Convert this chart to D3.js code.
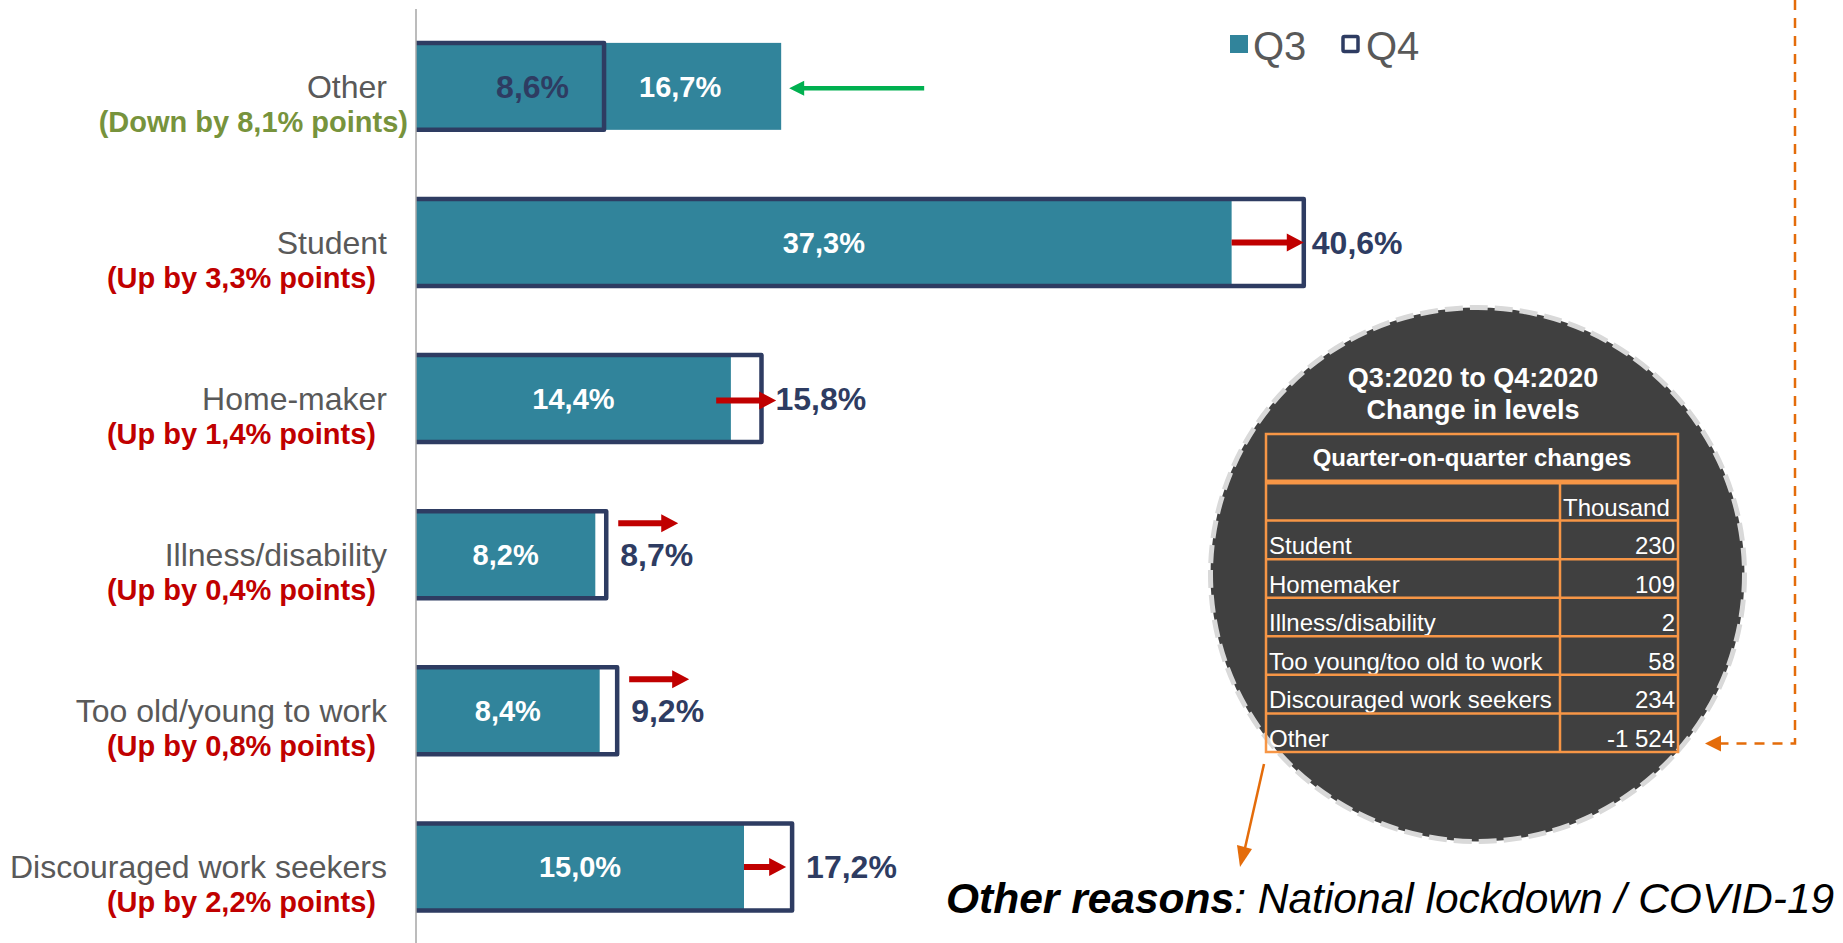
<!DOCTYPE html>
<html>
<head>
<meta charset="utf-8">
<script src="https://cdn.jsdelivr.net/npm/d3@7"></script>
<style>
  body { margin: 0; background: #fff; }
  svg { display: block; font-family: "Liberation Sans", Arial, sans-serif; }
</style>
</head>
<body>
<div id="chart"></div>
<script>
// data
let categories = ["Other", "Student", "Home-maker", "Illness/disability", "Too old/young to work", "Discouraged work seekers"]
let q3Values = [16.7, 37.3, 14.4, 8.2, 8.4, 15.0]
let q4Values = [8.6, 40.6, 15.8, 8.7, 9.2, 17.2]
let changeLabels = ["(Down by 8,1% points)", "(Up by 3,3% points)", "(Up by 1,4% points)",
    "(Up by 0,4% points)", "(Up by 0,8% points)", "(Up by 2,2% points)"]
let legendLabels = ["Q3", "Q4"]

let tableTitle = ["Q3:2020 to Q4:2020", "Change in levels"]
let tableHeader = "Quarter-on-quarter changes"
let tableUnit = "Thousand"
let tableRows = ["Student", "Homemaker", "Illness/disability", "Too young/too old to work", "Discouraged work seekers", "Other"]
let tableValues = ["230", "109", "2", "58", "234", "-1 524"]

let noteBold = "Other reasons"
let noteText = ": National lockdown / COVID-19"

let teal = "#31849B", navy = "#2E3C62", red = "#C00000", green = "#00B050",
    olive = "#77933C", grey = "#595959", orange = "#F79646", darkOrange = "#E46C0A"

let width = 1843, height = 943

let svg = d3.select("#chart").append("svg")
    .attr("width", width)
    .attr("height", height)

let data = categories.map((c, i) => ({cat: c, q3: q3Values[i], q4: q4Values[i], change: changeLabels[i]}))

let fmt = d3.formatLocale({decimal: ",", thousands: " ", grouping: [3], currency: ["", ""]}).format(".1f")

let x = d3.scaleLinear().domain([0, 45]).range([416, 1400])
let y = d3.scaleBand().domain(categories).range([8.3, 945]).paddingInner(0.443).paddingOuter(0.2215)
let bw = y.bandwidth()

// arrow polygon, works both ways
function arrow(x1, x2, yc, shaft, headW, headL) {
    let dir = x2 > x1 ? 1 : -1
    let hb = x2 - dir * headL
    return [[x1, yc - shaft / 2], [hb, yc - shaft / 2], [hb, yc - headW / 2], [x2, yc],
        [hb, yc + headW / 2], [hb, yc + shaft / 2], [x1, yc + shaft / 2]]
}
let line = d3.line()

// Q4 white background, Q3 fill, Q4 outline
svg.selectAll(".q4bg").data(data).enter()
    .append("rect")
    .attr("x", x(0))
    .attr("y", d => y(d.cat))
    .attr("width", d => x(d.q4) - x(0))
    .attr("height", bw)
    .attr("fill", "#fff")

svg.selectAll(".q3").data(data).enter()
    .append("rect")
    .attr("x", x(0))
    .attr("y", d => y(d.cat))
    .attr("width", d => x(d.q3) - x(0))
    .attr("height", bw)
    .attr("fill", teal)

svg.selectAll(".q4").data(data).enter()
    .append("path")
    .attr("d", d => line([[x(0), y(d.cat)], [x(d.q4), y(d.cat)], [x(d.q4), y(d.cat) + bw], [x(0), y(d.cat) + bw]]))
    .attr("fill", "none")
    .attr("stroke", navy)
    .attr("stroke-width", 4.5)
    .attr("stroke-linejoin", "round")

// axis line
svg.append("line")
    .attr("x1", x(0)).attr("x2", x(0))
    .attr("y1", 9).attr("y2", height)
    .attr("stroke", "#A6A6A6")
    .attr("stroke-width", 1.5)

// category labels
svg.selectAll(".cat").data(data).enter()
    .append("text")
    .attr("x", 387)
    .attr("y", d => y(d.cat) + bw / 2)
    .attr("dy", "0.35em")
    .attr("text-anchor", "end")
    .attr("font-size", 32)
    .attr("fill", grey)
    .text(d => d.cat)

svg.selectAll(".chg").data(data).enter()
    .append("text")
    .attr("x", d => d.q4 < d.q3 ? 408 : 376)
    .attr("y", d => y(d.cat) + bw / 2 + 35)
    .attr("dy", "0.35em")
    .attr("text-anchor", "end")
    .attr("font-size", 29)
    .attr("font-weight", "bold")
    .attr("fill", d => d.q4 < d.q3 ? olive : red)
    .text(d => d.change)

// value labels
svg.selectAll(".q3lab").data(data).enter()
    .append("text")
    .attr("x", d => d.q4 < d.q3 ? x(d.q4) + 35 : (x(0) + x(d.q3)) / 2)
    .attr("y", d => y(d.cat) + bw / 2)
    .attr("dy", "0.35em")
    .attr("text-anchor", d => d.q4 < d.q3 ? "start" : "middle")
    .attr("font-size", 29)
    .attr("font-weight", "bold")
    .attr("fill", "#fff")
    .text(d => fmt(d.q3) + "%")

svg.selectAll(".q4lab").data(data).enter()
    .append("text")
    .attr("x", d => d.q4 < d.q3 ? x(d.q4) - 35 : x(d.q4) + (d.q4 > 30 ? 8 : 14))
    .attr("y", d => y(d.cat) + bw / 2)
    .attr("dy", "0.35em")
    .attr("text-anchor", d => d.q4 < d.q3 ? "end" : "start")
    .attr("font-size", 32)
    .attr("font-weight", "bold")
    .attr("fill", navy)
    .text(d => fmt(d.q4) + "%")

// change arrows
data.forEach(d => {
    let yc = y(d.cat) + bw / 2
    let gap = x(d.q4) - x(d.q3)
    if (d.q4 < d.q3) {
        svg.append("polygon")
            .attr("points", arrow(x(d.q3) + 143, x(d.q3) + 8, yc + 2, 4.5, 15, 15).join(" "))
            .attr("fill", green)
    } else if (d.q4 - d.q3 < 1) {
        svg.append("polygon")
            .attr("points", arrow(x(d.q4) + 12, x(d.q4) + 72, y(d.cat) + 12, 6, 18, 17).join(" "))
            .attr("fill", red)
    } else if (gap < 40) {
        let ext = (60 - gap) / 2
        svg.append("polygon")
            .attr("points", arrow(x(d.q3) - ext, x(d.q4) + ext, yc + 2, 6, 18, 17).join(" "))
            .attr("fill", red)
    } else {
        let trim = Math.max(0, 60 - gap) / 2
        svg.append("polygon")
            .attr("points", arrow(x(d.q3), x(d.q4) - trim, yc, 6, 18, 17).join(" "))
            .attr("fill", red)
    }
})

// legend
let legend = svg.append("g").attr("transform", "translate(1230,35)")
legend.append("rect").attr("width", 18).attr("height", 18).attr("fill", teal)
legend.append("text").attr("x", 23).attr("y", 25).attr("font-size", 40).attr("fill", grey).text(legendLabels[0])
legend.append("rect").attr("x", 113).attr("y", 1.5).attr("width", 15).attr("height", 15)
    .attr("fill", "#fff").attr("stroke", navy).attr("stroke-width", 3.5).attr("rx", 1.5)
legend.append("text").attr("x", 136).attr("y", 25).attr("font-size", 40).attr("fill", grey).text(legendLabels[1])

// dashed orange pointer from top right
svg.append("path")
    .attr("d", line([[1795, 0], [1795, 743.5], [1718, 743.5]]))
    .attr("fill", "none")
    .attr("stroke", darkOrange)
    .attr("stroke-width", 2.5)
    .attr("stroke-dasharray", "10,8")
svg.append("polygon")
    .attr("points", [[1705, 743.5], [1721, 735.5], [1721, 751.5]].join(" "))
    .attr("fill", darkOrange)

// circle with table
svg.append("circle")
    .attr("cx", 1477.5).attr("cy", 574.5).attr("r", 267)
    .attr("fill", "#404040")
    .attr("stroke", "#D9D9D9")
    .attr("stroke-width", 5)
    .attr("stroke-dasharray", "18,7")

svg.selectAll(".ttl").data(tableTitle).enter()
    .append("text")
    .attr("x", 1473)
    .attr("y", (d, i) => 387 + i * 32)
    .attr("text-anchor", "middle")
    .attr("font-size", 27)
    .attr("font-weight", "bold")
    .attr("fill", "#fff")
    .text(d => d)

let tx0 = 1266, tx1 = 1560, tx2 = 1678, ty0 = 434, ty1 = 482, ty2 = 752
let ty = d3.scaleBand().domain([tableUnit].concat(tableRows)).range([ty1, ty2])

svg.append("text")
    .attr("x", (tx0 + tx2) / 2)
    .attr("y", (ty0 + ty1) / 2)
    .attr("dy", "0.35em")
    .attr("text-anchor", "middle")
    .attr("font-size", 24)
    .attr("font-weight", "bold")
    .attr("fill", "#fff")
    .text(tableHeader)

svg.append("text")
    .attr("x", tx1 + 3)
    .attr("y", ty(tableUnit) + ty.bandwidth() - 5)
    .attr("font-size", 24)
    .attr("fill", "#fff")
    .text(tableUnit)

svg.selectAll(".trow").data(tableRows).enter()
    .append("text")
    .attr("x", tx0 + 3)
    .attr("y", d => ty(d) + ty.bandwidth() - 5)
    .attr("font-size", 24)
    .attr("fill", "#fff")
    .text(d => d)

svg.selectAll(".tval").data(tableValues).enter()
    .append("text")
    .attr("x", tx2 - 3)
    .attr("y", (d, i) => ty(tableRows[i]) + ty.bandwidth() - 5)
    .attr("text-anchor", "end")
    .attr("font-size", 24)
    .attr("fill", "#fff")
    .text(d => d)

// table grid
svg.selectAll(".hline").data(tableRows).enter()
    .append("line")
    .attr("x1", tx0).attr("x2", tx2)
    .attr("y1", d => ty(d)).attr("y2", d => ty(d))
    .attr("stroke", orange).attr("stroke-width", 2.5)
svg.append("line")
    .attr("x1", tx1).attr("x2", tx1).attr("y1", ty1).attr("y2", ty2)
    .attr("stroke", orange).attr("stroke-width", 2.5)
svg.append("line")
    .attr("x1", tx0).attr("x2", tx2).attr("y1", ty1).attr("y2", ty1)
    .attr("stroke", orange).attr("stroke-width", 5)
svg.append("rect")
    .attr("x", tx0).attr("y", ty0).attr("width", tx2 - tx0).attr("height", ty2 - ty0)
    .attr("fill", "none").attr("stroke", orange).attr("stroke-width", 2.5)

// pointer to the note
svg.append("line")
    .attr("x1", 1264).attr("y1", 764).attr("x2", 1245).attr("y2", 848)
    .attr("stroke", darkOrange).attr("stroke-width", 2.5)
svg.append("polygon")
    .attr("points", [[1240, 867], [1237, 845], [1252, 849]].join(" "))
    .attr("fill", darkOrange)

let note = svg.append("text")
    .attr("x", 946)
    .attr("y", 913)
    .attr("font-size", 42.5)
    .attr("font-style", "italic")
    .attr("fill", "#000")
note.append("tspan").attr("font-weight", "bold").text(noteBold)
note.append("tspan").text(noteText)
</script>
</body>
</html>
